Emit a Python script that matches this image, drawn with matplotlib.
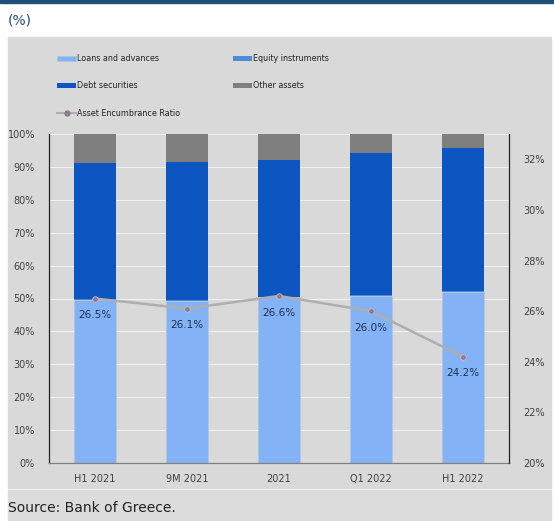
import matplotlib.pyplot as plt
from matplotlib.patches import Rectangle
from matplotlib.lines import Line2D
import numpy as np

periods = ["H1 2021", "9M 2021", "2021", "Q1 2022", "H1 2022"]
loans = [49.5, 49.3, 50.4, 50.8, 52.0]
equity = [0.2, 0.2, 0.2, 0.2, 0.2]
debt = [41.6, 42.0, 41.4, 43.1, 43.6]
other = [8.7, 8.5, 8.0, 5.9, 4.2]
ratio = [26.5, 26.1, 26.6, 26.0, 24.2]

c_loans = "#84B2F6"
c_equity = "#4A8CD8"
c_debt = "#0D55C1"
c_other = "#7F7F7F"
c_line = "#AEAEAE"
c_marker = "#8E7B90"
c_text = "#404040"

W, H = 554, 521
fig = plt.figure(figsize=(W / 100, H / 100), dpi=100)
plt.rcParams['font.family'] = ['DejaVu Sans']


def px_rect(x0, y0, x1, y1, color):
    # rectangle in pixel coordinates measured from the top-left corner
    fig.patches.append(Rectangle((x0 / W, 1 - y1 / H), (x1 - x0) / W, (y1 - y0) / H,
                                 transform=fig.transFigure, color=color, zorder=-5))


px_rect(0, 0, W, 3, "#1F4E79")
px_rect(8, 37, 551, 488, "#D9D9D9")
px_rect(8, 490, 551, H, "#DCDCDC")

fig.text(8 / W, 1 - 21 / H, "(%)", fontsize=10, color="#1F4E79", va="center", ha="left")
fig.text(8 / W, 1 - 508 / H, "Source: Bank of Greece.", fontsize=10, color="#222222",
         va="center", ha="left")

ax = fig.add_axes([49 / W, 58 / H, 460 / W, 329 / H])
ax.set_facecolor("none")
x = np.arange(len(periods))
bw = 0.45

b1 = ax.bar(x, loans, bw, color=c_loans, edgecolor="#B8C4D6", linewidth=0.4, zorder=2)
bottom = np.array(loans)
b2 = ax.bar(x, equity, bw, bottom=bottom, color=c_equity, zorder=2)
bottom = bottom + np.array(equity)
b3 = ax.bar(x, debt, bw, bottom=bottom, color=c_debt, zorder=2)
bottom = bottom + np.array(debt)
b4 = ax.bar(x, other, bw, bottom=bottom, color=c_other, zorder=2)

ax.set_xlim(-0.5, len(periods) - 0.5)
ax.set_ylim(0, 100)
ax.set_yticks(range(0, 101, 10))
ax.set_yticklabels([f"{v}%" for v in range(0, 101, 10)])
ax.set_xticks(x)
ax.set_xticklabels(periods)
ax.tick_params(length=0, labelsize=7, colors=c_text, pad=8)
ax.tick_params(axis="y", pad=10)
for v in range(10, 101, 10):
    ax.axhline(v, color="#F2F2F2", lw=0.7, zorder=1)

ax.spines["top"].set_visible(False)
ax.spines["left"].set_color("#222222")
ax.spines["left"].set_linewidth(0.9)
ax.spines["right"].set_visible(False)
ax.spines["bottom"].set_color("#808080")
ax.spines["bottom"].set_linewidth(0.9)

ax2 = ax.twinx()
ax2.set_ylim(20, 33)
ax2.set_yticks(range(20, 33, 2))
ax2.set_yticklabels([f"{v}%" for v in range(20, 33, 2)])
ax2.tick_params(length=0, labelsize=7, colors=c_text, pad=10)
for s in ["top", "left", "bottom"]:
    ax2.spines[s].set_visible(False)
ax2.spines["right"].set_color("#222222")
ax2.spines["right"].set_linewidth(0.9)

ln, = ax2.plot(x, ratio, color=c_line, lw=1.8, marker="o", ms=4,
               markerfacecolor=c_marker, markeredgecolor="#C9B9CB", markeredgewidth=0.6,
               zorder=3)
for xi, v in zip(x, ratio):
    ax2.annotate(f"{v:.1f}%", (xi, v), xytext=(0, -12), textcoords="offset points",
                 ha="center", va="center", fontsize=7.5, color="#1F3050")

handles = [b1, b3, Line2D([], [], color=c_line, lw=1.5, marker="o", ms=3.5,
                          markerfacecolor=c_marker, markeredgecolor=c_marker),
           b2, b4]
labels = ["Loans and advances", "Debt securities", "Asset Encumbrance Ratio",
          "Equity instruments", "Other assets"]
fig.legend(handles, labels, ncol=2, loc="upper left", bbox_to_anchor=(50 / W, 1 - 47 / H),
           frameon=False, fontsize=5.8, handlelength=2.3, handleheight=0.5,
           handletextpad=0.15, labelspacing=2.25, columnspacing=6.6, labelcolor="#222222")

fig.savefig("out.png", dpi=100)
